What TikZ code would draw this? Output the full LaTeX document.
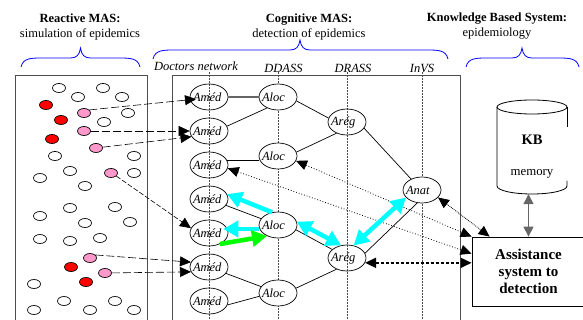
\documentclass[tikz,border=0pt]{standalone}
\usepackage{fontspec}
\setmainfont{Liberation Serif}
\usetikzlibrary{shapes,arrows.meta}

\definecolor{agentpink}{RGB}{255,153,204}
\definecolor{flowcyan}{RGB}{0,255,255}
\definecolor{flowgreen}{RGB}{0,255,0}
\newcommand{\levelname}[1]{\makebox[0pt]{\makebox[32pt][l]{#1}}}

\tikzset{
  agent/.style={shape=ellipse,draw=black,line width=0.7pt,minimum width=13pt,minimum height=9pt,inner sep=0pt},
  level/.style={shape=ellipse,draw=black,line width=0.7pt,minimum width=38pt,minimum height=26pt,inner sep=0pt,font=\fontsize{12.5}{14}\selectfont\itshape},
  opaque/.style={level,fill=white},
  head/.style={align=center,font=\fontsize{12.5}{15}\selectfont},
  column/.style={font=\fontsize{12.5}{14}\selectfont\itshape},
  frame/.style={draw=black!70,line width=1pt},
  guide/.style={draw=black!70,densely dotted,line width=0.5pt},
  brace/.style={draw=blue,line width=0.8pt},
  link/.style={-,draw=black,line width=0.7pt},
  send/.style={-{Triangle[length=11pt,width=10pt]},draw=black,line width=0.6pt,dash pattern=on 8pt off 3pt},
  query/.style={{Triangle[length=11pt,width=10pt]}-{Triangle[length=11pt,width=10pt]},draw=black,line width=0.8pt,dotted},
  flow/.style={line width=4.5pt,{Triangle[length=15pt,width=16pt]}-{Triangle[length=15pt,width=16pt]},draw=flowcyan},
  back/.style={line width=4.5pt,-{Triangle[length=15pt,width=16pt]},draw=flowcyan},
  trigger/.style={line width=4.5pt,-{Triangle[length=15pt,width=16pt]},draw=flowgreen}
}

\begin{document}
\begin{tikzpicture}[x=1pt,y=-1pt]
\useasboundingbox (0,0) rectangle (583,320);

\node[head] (reactive) at (80,26.5) {\textbf{Reactive MAS:}\\simulation of epidemics};
\node[head] (cognitive) at (309,26.5) {\textbf{Cognitive MAS:}\\detection of epidemics};
\node[head] (knowledge) at (497,26.5) {\textbf{Knowledge Based System:}\\epidemiology};

\foreach \xa/\xm/\xb/\yb in {21/80.5/140/67,153/300/448/59,466/522/579/67}
  \draw[brace] (\xa,\yb) .. controls (\xa+2,\yb-9) and (\xa+10,\yb-9) .. (\xa+22,\yb-9) -- (\xm-10,\yb-9)
    .. controls (\xm-4,\yb-9) and (\xm-1,\yb-12) .. (\xm,\yb-19)
    .. controls (\xm+1,\yb-12) and (\xm+4,\yb-9) .. (\xm+10,\yb-9) -- (\xb-22,\yb-9)
    .. controls (\xb-10,\yb-9) and (\xb-2,\yb-9) .. (\xb,\yb);

\draw[frame] (15,320) -- (15,76) -- (147,76) -- (147,320);
\draw[frame] (172,320) -- (172,76) -- (460,76) -- (460,320);
\foreach \x in {209,278,347,422}
  \draw[guide] (\x,72) -- (\x,320);

\node[column] (doctors) at (196,66) {Doctors network};
\node[column] (ddass) at (283.5,68) {DDASS};
\node[column] (drass) at (353,68) {DRASS};
\node[column] (invs) at (422,68) {InVS};

\foreach \x/\y in {59/88,78/97,103/88,122/97,128/113,104/122,55/156,134/156,40/178,70/171,134/173,85/186,
    40/216,70/208,115/207,85/223,130/222,40/239,70/241,100/238,34/284,64/301,115/301,34/310,90/310,134/310}
  \node[agent] (w\x-\y) at (\x,\y) {};
\foreach \x/\y in {46/105,61/120,52/139,71/267,86/282}
  \node[agent,fill=red] (r\x-\y) at (\x,\y) {};
\node[agent,fill=agentpink] (pink1) at (84,113) {};
\node[agent,fill=agentpink] (pink2) at (84,131) {};
\node[agent,fill=agentpink] (pink3) at (96,148) {};
\node[agent,fill=agentpink] (pink4) at (111,173) {};
\node[agent,fill=agentpink] (pink5) at (90,258) {};
\node[agent,fill=agentpink] (pink6) at (105,273) {};

\node[level] (med1) at (209,97) {\levelname{Améd}};
\node[level] (med2) at (209,131) {\levelname{Améd}};
\node[level] (med3) at (209,165) {\levelname{Améd}};
\node[level] (med4) at (209,199) {\levelname{Améd}};
\node[level] (med5) at (209,233) {\levelname{Améd}};
\node[level] (med6) at (209,267) {\levelname{Améd}};
\node[level] (med7) at (209,301) {\levelname{Améd}};
\node[opaque] (loc1) at (278,97) {\levelname{Aloc}};
\node[opaque] (loc2) at (278,156) {\levelname{Aloc}};
\node[opaque] (loc3) at (278,225) {\levelname{Aloc}};
\node[opaque] (loc4) at (278,293) {\levelname{Aloc}};
\node[level] (reg1) at (347,122) {\levelname{Arég}};
\node[level] (reg2) at (347,258) {\levelname{Arég}};
\node[opaque] (nat) at (422,190) {\levelname{Anat}};

\draw[draw=black,line width=0.8pt] (497,107) arc[start angle=180,end angle=540,x radius=35,y radius=7];
\draw[draw=black,line width=0.8pt] (567,107) -- (567,127);
\draw[draw=black,line width=0.8pt] (497,107) -- (497,186) arc[start angle=180,end angle=0,x radius=35,y radius=8] -- (567,181);
\node[shape=rectangle,minimum width=70pt,minimum height=94pt,inner sep=0pt] (kb) at (532,147) {};
\node[font=\fontsize{14.5}{16}\selectfont\bfseries] (kbname) at (532,140) {KB};
\node[font=\fontsize{12.8}{14}\selectfont] (memory) at (532,174) {memory};
\node[shape=rectangle,draw=black,line width=0.8pt,fill=white,align=center,minimum width=113pt,minimum height=69pt,inner sep=0pt,font=\fontsize{15}{17}\selectfont\bfseries] (system) at (528.5,271.5) {Assistance\\system to\\detection};

\path (med1) edge[link,draw=black!60,line width=1.3pt] (loc1);
\path (med2.15) edge[link] (loc1.225);
\path (med3.14) edge[link] (med3.14 -| loc2.west);
\path (loc1.-12) edge[link] (reg1.168);
\path (loc2.12) edge[link] (reg1.227);
\path (reg1.-20) edge[link] (nat.135);
\path (med4) edge[link] (loc3);
\path (loc3.-15) edge[link] (reg2.150);
\path (med6) edge[link] (loc4);
\path (med7.-12) edge[link] (loc4.190);
\path (loc4.15) edge[link] (reg2.227);
\path (reg2.15) edge[link] (nat.250);

\path (pink1.30) edge[send,shorten >=-6pt] (med1.188);
\path (pink2) edge[send] (med2);
\path (pink3) edge[send] (med2.198);
\path (pink4.-30) edge[send,dash pattern=on 5pt off 2pt] (med5.165);
\path (pink5.30) edge[send] (med6.165);
\path (pink6) edge[send] (med6.195);

\path (loc2.-15) edge[query] (system.north west);
\path (med3.-10) edge[query] ([yshift=-17pt]system.north west);
\path (nat.-25) edge[query,densely dotted] ([xshift=18pt]system.north west);
\path (reg2.-15) edge[query,line width=1.6pt,dash pattern=on 3.5pt off 1.5pt] (reg2.-15 -| system.west);
\path (kb.south -| system) edge[{Triangle[length=10pt,width=10pt]}-{Triangle[length=10pt,width=10pt]},draw=black!60,line width=1.3pt] (system.north);

\path (loc3.115) edge[back] (med4.15);
\path ([yshift=-4pt]loc3.west) edge[back] ([xshift=-5pt,yshift=4pt]med5.east);
\path (med5.-45) edge[trigger] (loc3.225);
\path (loc3.10) edge[flow] (reg2.115);
\path (reg2.62) edge[flow] (nat.205);
\end{tikzpicture}
\end{document}
